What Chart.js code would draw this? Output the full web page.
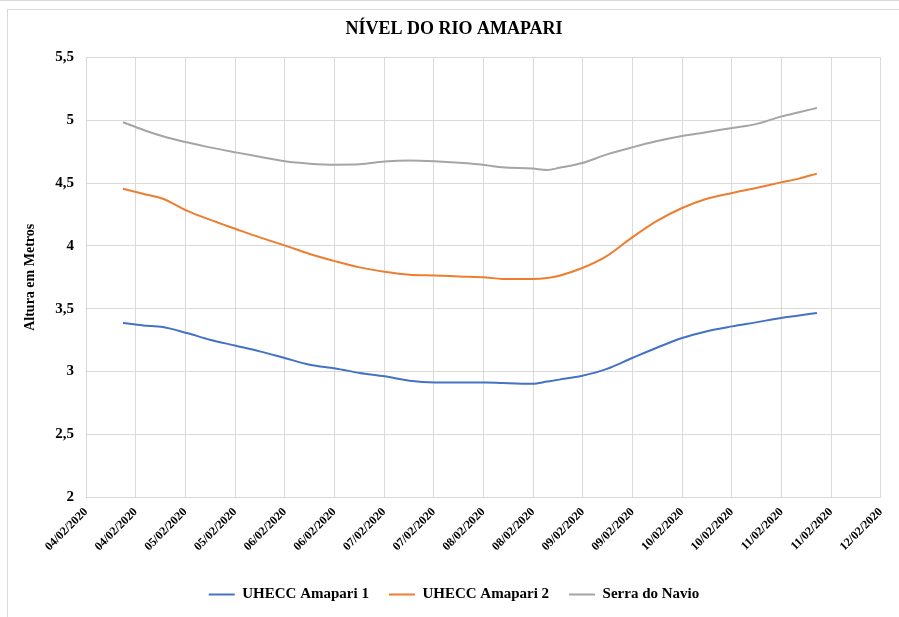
<!DOCTYPE html>
<html>
<head>
<meta charset="utf-8">
<title>Nível do Rio Amapari</title>
<script src="https://cdn.jsdelivr.net/npm/chart.js@4.4.1/dist/chart.umd.min.js"></script>
<style>
  html, body { margin: 0; padding: 0; background: #fff; }
  canvas { display: block; }
</style>
</head>
<body>
<canvas id="nivelChart" width="899" height="617"></canvas>
<script>
// time in days of February 2020 (decimal day)
const diasFev = [
  4.372, 4.573, 4.774, 5.015, 5.246, 5.508, 5.749, 6.000, 6.251, 6.513,
  6.754, 7.005, 7.256, 7.508, 7.759, 8.030, 8.191, 8.492, 8.643, 8.764,
  8.995, 9.236, 9.497, 9.739, 10.000, 10.241, 10.503, 10.744, 10.995, 11.176, 11.357
];

const amapari1 = [
  3.386, 3.367, 3.354, 3.306, 3.253, 3.205, 3.160, 3.107, 3.054, 3.024,
  2.988, 2.961, 2.926, 2.913, 2.913, 2.913, 2.908, 2.902, 2.920, 2.935,
  2.966, 3.019, 3.107, 3.187, 3.267, 3.319, 3.359, 3.391, 3.426, 3.445, 3.466
];

const amapari2 = [
  4.456, 4.416, 4.376, 4.281, 4.209, 4.135, 4.068, 4.004, 3.936, 3.877,
  3.829, 3.795, 3.771, 3.765, 3.757, 3.749, 3.737, 3.737, 3.745, 3.763,
  3.824, 3.917, 4.068, 4.196, 4.302, 4.374, 4.422, 4.462, 4.506, 4.536, 4.576
];

const serraNavio = [
  4.985, 4.925, 4.873, 4.825, 4.785, 4.745, 4.710, 4.674, 4.655, 4.647,
  4.650, 4.672, 4.680, 4.674, 4.662, 4.643, 4.626, 4.616, 4.605, 4.622,
  4.660, 4.727, 4.785, 4.833, 4.875, 4.905, 4.940, 4.970, 5.030, 5.065, 5.099
];

const xTickLabels = [
  '04/02/2020', '04/02/2020', '05/02/2020', '05/02/2020', '06/02/2020', '06/02/2020',
  '07/02/2020', '07/02/2020', '08/02/2020', '08/02/2020', '09/02/2020', '09/02/2020',
  '10/02/2020', '10/02/2020', '11/02/2020', '11/02/2020', '12/02/2020'
];

const serif = "'Liberation Serif', 'Times New Roman', serif";

function toPoints(values) {
  return values.map((v, i) => ({ x: diasFev[i], y: v }));
}

// light frame like the exported Excel chart
const framePlugin = {
  id: 'frame',
  beforeDraw(chart) {
    const ctx = chart.ctx;
    ctx.save();
    ctx.strokeStyle = '#d9d9d9';
    ctx.lineWidth = 1;
    ctx.strokeRect(7.5, 9.5, chart.width + 10, chart.height + 10);
    ctx.beginPath();
    ctx.moveTo(0, 0.5);
    ctx.lineTo(chart.width, 0.5);
    ctx.stroke();
    ctx.restore();
  }
};

const lineDataset = (label, values, color) => ({
  label: label,
  data: toPoints(values),
  borderColor: color,
  backgroundColor: color,
  borderWidth: 2,
  pointRadius: 0,
  cubicInterpolationMode: 'monotone',
  fill: false
});

new Chart(document.getElementById('nivelChart'), {
  type: 'line',
  data: {
    datasets: [
      lineDataset('UHECC Amapari 1', amapari1, '#4472C4'),
      lineDataset('UHECC Amapari 2', amapari2, '#ED7D31'),
      lineDataset('Serra do Navio', serraNavio, '#A5A5A5')
    ]
  },
  options: {
    responsive: false,
    animation: false,
    layout: { padding: { left: 22, right: 13, top: 0, bottom: 5 } },
    plugins: {
      title: {
        display: true,
        text: 'NÍVEL DO RIO AMAPARI',
        color: '#000',
        font: { family: serif, size: 18, weight: 'bold' },
        padding: { top: 19, bottom: 17 }
      },
      legend: {
        position: 'bottom',
        labels: {
          color: '#000',
          font: { family: serif, size: 15, weight: 'bold' },
          boxWidth: 26,
          boxHeight: 2,
          padding: 20,
          generateLabels(chart) {
            return Chart.defaults.plugins.legend.labels.generateLabels(chart)
              .map(l => Object.assign(l, { lineWidth: 0 }));
          }
        }
      },
      tooltip: { enabled: false }
    },
    scales: {
      x: {
        type: 'linear',
        min: 4,
        max: 12,
        afterFit(scale) { scale.height = 70; },
        afterBuildTicks(scale) {
          scale.ticks = xTickLabels.map((t, i) => ({ value: 4 + i * 0.5 }));
        },
        grid: { color: '#d9d9d9', drawTicks: false },
        border: { color: '#d9d9d9' },
        ticks: {
          autoSkip: false,
          minRotation: 45,
          maxRotation: 45,
          padding: 8,
          color: '#000',
          font: { family: serif, size: 12, weight: 'bold' },
          callback: (v) => xTickLabels[Math.round((v - 4) * 2)]
        }
      },
      y: {
        min: 2,
        max: 5.5,
        afterFit(scale) { scale.width = 64; },
        grid: { color: '#d9d9d9', drawTicks: false },
        border: { color: '#d9d9d9' },
        ticks: {
          stepSize: 0.5,
          padding: 12,
          color: '#000',
          font: { family: serif, size: 15, weight: 'bold' },
          callback: (v) => String(v).replace('.', ',')
        },
        title: {
          display: true,
          text: 'Altura em Metros',
          color: '#000',
          font: { family: serif, size: 14, weight: 'bold' },
          padding: { top: 0, bottom: 0 }
        }
      }
    }
  },
  plugins: [framePlugin]
});
</script>
</body>
</html>
